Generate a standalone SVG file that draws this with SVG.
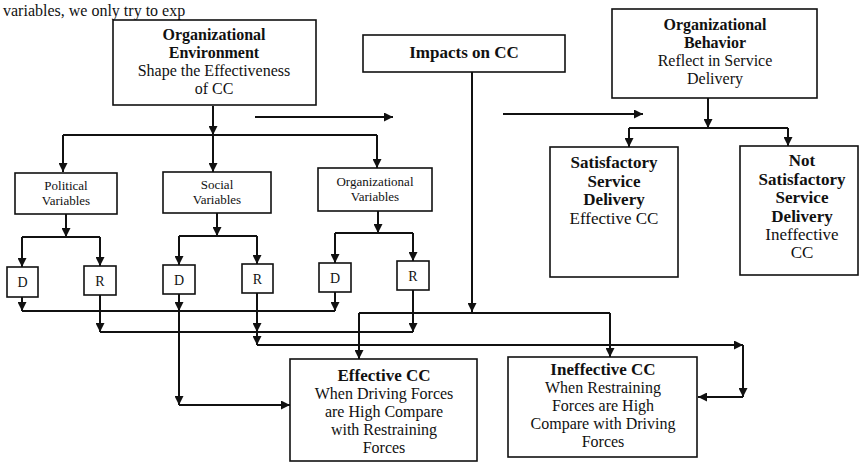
<svg xmlns="http://www.w3.org/2000/svg" width="866" height="462" viewBox="0 0 866 462">
<defs>
<style>
.bx{fill:#fff;stroke:#111;stroke-width:1.6}
.t{font-family:"Liberation Serif","Times New Roman",serif;fill:#111;text-anchor:middle}
.b{font-weight:bold}
.s16{font-size:16px}
.s17{font-size:17px}
.s13{font-size:13px}
.s14{font-size:14px}
.ln{fill:none;stroke:#111;stroke-width:2}
.ar{fill:none;stroke:#111;stroke-width:2;marker-end:url(#ah)}
</style>
<marker id="ah" viewBox="0 0 10 10" refX="10" refY="5" markerWidth="9" markerHeight="9" markerUnits="userSpaceOnUse" orient="auto">
<path d="M0,0 L10,5 L0,10 z" fill="#111"/>
</marker>
</defs>
<rect width="866" height="462" fill="#fff"/>
<text x="3" y="16" style="font-family:'Liberation Serif',serif;font-size:16px;fill:#111">variables, we only try to exp</text>

<g id="connectors">
<path class="ar" d="M213,106 V135"/>
<path class="ln" d="M63,135 H377"/>
<path class="ar" d="M63,135 V172"/>
<path class="ar" d="M213,135 V172"/>
<path class="ar" d="M377,135 V168"/>
<path class="ar" d="M255,117 H393"/>
<path class="ar" d="M472,72 V312"/>
<path class="ar" d="M503,114 H643"/>
<path class="ar" d="M708,98 V128"/>
<path class="ln" d="M629,128 H788"/>
<path class="ar" d="M629,128 V147"/>
<path class="ar" d="M788,128 V146"/>

<path class="ar" d="M66,214 V237"/>
<path class="ln" d="M22,237 H100"/>
<path class="ar" d="M22,237 V267"/>
<path class="ar" d="M100,237 V266"/>

<path class="ar" d="M217,213 V236"/>
<path class="ln" d="M179,236 H257"/>
<path class="ar" d="M179,236 V265"/>
<path class="ar" d="M257,236 V264"/>

<path class="ar" d="M378,211 V233"/>
<path class="ln" d="M335,233 H413"/>
<path class="ar" d="M335,233 V263"/>
<path class="ar" d="M413,233 V261"/>

<path class="ar" d="M22,297 V311"/>
<path class="ar" d="M335,292 V311"/>
<path class="ln" d="M22,311 H335"/>
<path class="ar" d="M179,294 V311"/>
<path class="ar" d="M179,311 V405"/>
<path class="ar" d="M179,405 H290"/>

<path class="ar" d="M100,295 V332"/>
<path class="ar" d="M413,290 V332"/>
<path class="ln" d="M100,332 H413"/>
<path class="ar" d="M257,293 V332"/>
<path class="ar" d="M257,332 V345"/>
<path class="ar" d="M257,345 H743"/>
<path class="ar" d="M743,345 V397"/>
<path class="ar" d="M743,397 H698"/>

<path class="ln" d="M359,313 H610"/>
<path class="ar" d="M359,313 V359"/>
<path class="ar" d="M610,313 V357"/>
</g>

<g id="org-environment">
<rect class="bx" x="113" y="20" width="203" height="85"/>
<text class="t b s16" x="214" y="40">Organizational</text>
<text class="t b s16" x="214" y="58">Environment</text>
<text class="t s16" x="214" y="76">Shape the Effectiveness</text>
<text class="t s16" x="214" y="94">of CC</text>
</g>

<g id="impacts">
<rect class="bx" x="363" y="35" width="202" height="37"/>
<text class="t b s17" x="464" y="58">Impacts on CC</text>
</g>

<g id="org-behavior">
<rect class="bx" x="612" y="9" width="205" height="89"/>
<text class="t b s16" x="715" y="30">Organizational</text>
<text class="t b s16" x="715" y="48">Behavior</text>
<text class="t s16" x="715" y="66">Reflect in Service</text>
<text class="t s16" x="715" y="84">Delivery</text>
</g>

<g id="satisfactory">
<rect class="bx" x="550" y="147" width="128" height="130"/>
<text class="t b s17" x="614" y="168">Satisfactory</text>
<text class="t b s17" x="614" y="187">Service</text>
<text class="t b s17" x="614" y="205">Delivery</text>
<text class="t s17" x="614" y="224">Effective CC</text>
</g>

<g id="not-satisfactory">
<rect class="bx" x="740" y="146" width="118" height="129"/>
<text class="t b s17" x="802" y="166">Not</text>
<text class="t b s17" x="802" y="185">Satisfactory</text>
<text class="t b s17" x="802" y="203">Service</text>
<text class="t b s17" x="802" y="222">Delivery</text>
<text class="t s17" x="802" y="240">Ineffective</text>
<text class="t s17" x="802" y="258">CC</text>
</g>

<g id="political">
<rect class="bx" x="15" y="173" width="102" height="41"/>
<text class="t s13" x="66" y="190">Political</text>
<text class="t s13" x="66" y="205">Variables</text>
</g>
<g id="social">
<rect class="bx" x="163" y="172" width="108" height="41"/>
<text class="t s13" x="217" y="189">Social</text>
<text class="t s13" x="217" y="204">Variables</text>
</g>
<g id="organizational">
<rect class="bx" x="318" y="168" width="114" height="43"/>
<text class="t s13" x="375" y="186">Organizational</text>
<text class="t s13" x="375" y="201">Variables</text>
</g>

<g id="political-d"><rect class="bx" x="7" y="267" width="31" height="30"/><text class="t s14" x="22.5" y="287">D</text></g>
<g id="political-r"><rect class="bx" x="84" y="266" width="32" height="29"/><text class="t s14" x="100" y="286">R</text></g>
<g id="social-d"><rect class="bx" x="163" y="265" width="32" height="29"/><text class="t s14" x="179" y="285">D</text></g>
<g id="social-r"><rect class="bx" x="242" y="264" width="31" height="29"/><text class="t s14" x="257.5" y="284">R</text></g>
<g id="org-d"><rect class="bx" x="319" y="263" width="32" height="29"/><text class="t s14" x="335" y="283">D</text></g>
<g id="org-r"><rect class="bx" x="397" y="261" width="32" height="29"/><text class="t s14" x="413" y="281">R</text></g>

<g id="effective">
<rect class="bx" x="290" y="359" width="187" height="102"/>
<text class="t b s17" x="384" y="381">Effective CC</text>
<text class="t s16" x="384" y="399">When Driving Forces</text>
<text class="t s16" x="384" y="417">are High Compare</text>
<text class="t s16" x="384" y="435">with Restraining</text>
<text class="t s16" x="384" y="453">Forces</text>
</g>

<g id="ineffective">
<rect class="bx" x="508" y="357" width="189" height="100"/>
<text class="t b s17" x="603" y="375">Ineffective CC</text>
<text class="t s16" x="603" y="393">When Restraining</text>
<text class="t s16" x="603" y="411">Forces are High</text>
<text class="t s16" x="603" y="429">Compare with Driving</text>
<text class="t s16" x="603" y="447">Forces</text>
</g>
</svg>
